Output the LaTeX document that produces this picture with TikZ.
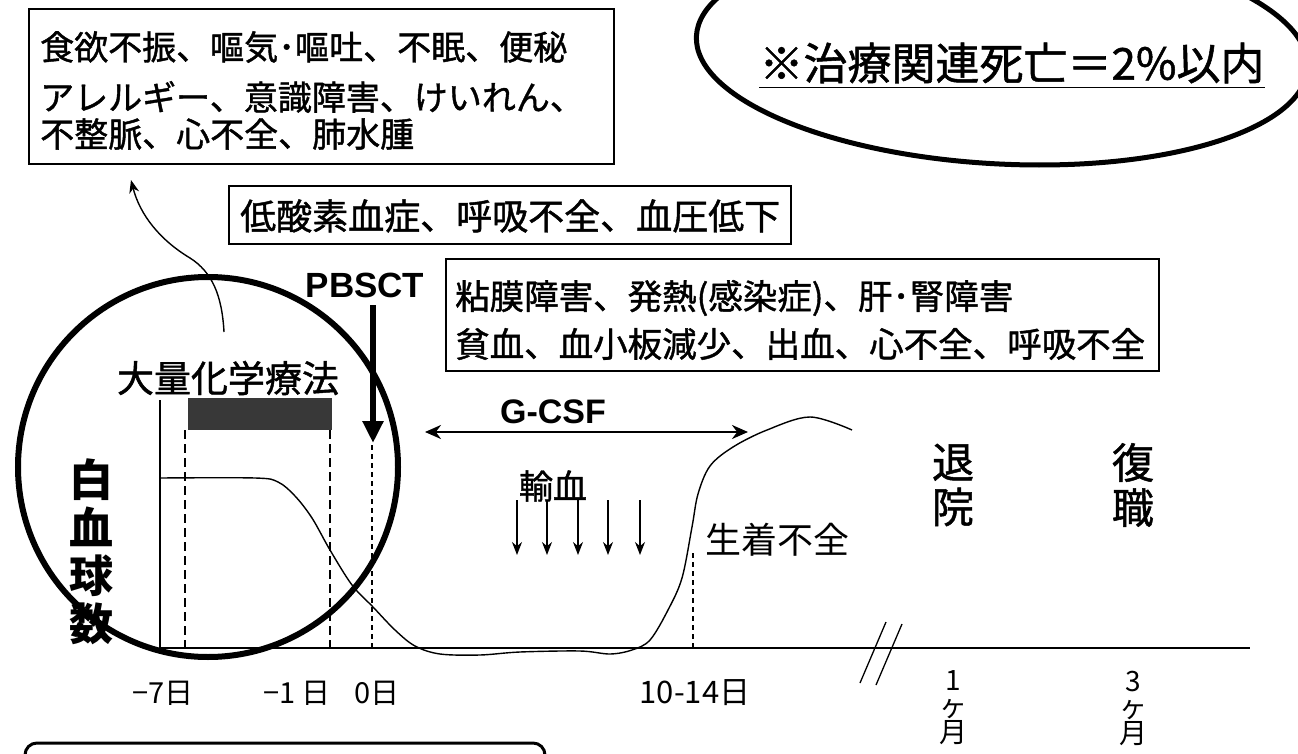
\documentclass[tikz,border=0pt]{standalone}
\usepackage{fontspec}
\newfontfamily\jp{Noto Sans CJK JP}
\newfontfamily\jpm[FakeBold=1.2]{Noto Sans CJK JP}
\newfontfamily\arl{Liberation Sans}
\usetikzlibrary{arrows.meta}
\tikzset{
  frame/.style={draw, line width=1.6pt, inner sep=0pt},
  jtxt/.style={font=\jpm\fontsize{34}{40}\selectfont, inner sep=0pt, anchor=west},
  btxt/.style={font=\jpm\fontsize{37}{40}\selectfont, inner sep=0pt},
  ticklbl/.style={font=\jp\fontsize{29}{30}\selectfont, inner sep=0pt},
  vlbl/.style={font=\jpm\fontsize{42}{45}\selectfont, inner sep=0pt, align=center},
  vmon/.style={font=\jp\fontsize{28}{26}\selectfont, inner sep=0pt, align=center},
  sanslbl/.style={font=\arl\bfseries\fontsize{34}{36}\selectfont, inner sep=0pt},
  dash1/.style={line width=1.3pt, dash pattern=on 9pt off 5pt},
  dash2/.style={line width=1.3pt, dash pattern=on 5pt off 4pt},
  thinarrow/.style={line width=1.4pt, -{Stealth[length=13pt, width=10pt]}},
}
\begin{document}
\begin{tikzpicture}[x=1pt, y=-1pt]
\useasboundingbox (0,0) rectangle (1298,754);
\fill[white] (0,0) rectangle (1298,754);
\clip (0,0) rectangle (1298,754);

% top-left box
\node[frame, minimum width=585pt, minimum height=155pt, anchor=north west] (b1) at (28,8) {};
\node[jtxt] (b1l1) at (40,47) {食欲不振、嘔気･嘔吐、不眠、便秘};
\node[jtxt] (b1l2) at (40,97) {アレルギー、意識障害、けいれん、};
\node[jtxt] (b1l3) at (40,134) {不整脈、心不全、肺水腫};

% ellipse with death rate
\draw[line width=5pt] (1002,52) ellipse [x radius=306, y radius=112, rotate=-3];
\node[font=\jpm\fontsize{44}{46}\selectfont, inner sep=0pt] (death) at (1012,63) {※治療関連死亡＝2\%以内};
\draw[line width=1.5pt] ([yshift=-4pt]death.south west) -- ([yshift=-4pt]death.south east);

% box 2
\node[frame, minimum width=562pt, minimum height=58pt, anchor=north west] (b2) at (228,185) {};
\node[jtxt, font=\jpm\fontsize{36}{40}\selectfont] (b2l1) at (240,216) {低酸素血症、呼吸不全、血圧低下};

% box 3
\node[frame, minimum width=713pt, minimum height=112pt, anchor=north west] (b3) at (445,258) {};
\node[jtxt, font=\jpm\fontsize{34.5}{40}\selectfont] (b3l1) at (455,298) {粘膜障害、発熱(感染症)、肝･腎障害};
\node[jtxt, font=\jpm\fontsize{34.5}{40}\selectfont] (b3l2) at (455,344) {貧血、血小板減少、出血、心不全、呼吸不全};

% big circle
\draw[line width=6pt] (208,467) circle [radius=190];

% curved arrow from circle to top-left box
\coordinate (cstart) at (224,332);
\coordinate (ctip) at (131,180);
\draw[thinarrow] (cstart) .. controls (222,295) and (212,272) .. (190,258) .. controls (160,240) and (140,215) .. (ctip);

% chemo label and bar
\node[btxt] (chemo) at (228,378) {大量化学療法};
\node[fill=black!78, inner sep=0pt, minimum width=144pt, minimum height=32pt, anchor=north west] (bar) at (188,398) {};

% PBSCT
\node[sanslbl, font=\arl\bfseries\fontsize{35}{36}\selectfont] (pbsct) at (365,285) {PBSCT};
\coordinate (pbtop) at (373,305);
\coordinate (pbtip) at (373,443);
\draw[line width=6.5pt, -{Triangle[length=22pt, width=20pt]}] (pbtop) -- (pbtip);

% axes
\coordinate (ytop) at (160,400);
\coordinate (origin) at (160,648);
\coordinate (xend) at (1250,648);
\draw[line width=1.6pt] (ytop) -- (origin) -- (xend);

% dashed day lines
\draw[dash1] (185,430) -- (185,648);
\draw[dash1] (330,430) -- (330,648);
\draw[dash2] (372,445) -- (372,648);
\draw[dash2] (693,553) -- (693,648);

% WBC curve
\draw[line width=1.4pt] plot[smooth, tension=0.55] coordinates {
 (160,478) (255,478) (278,482) (295,496) (312,518) (330,550) (352,585) (373,607) (395,630) (415,646) (440,654) (480,655) (520,652) (580,651) (610,654) (632,650) (650,640) (668,610) (682,578) (692,527) (698,494) (710,466) (733,447) (767,430) (810,417) (852,430)};

% G-CSF
\node[sanslbl] (gcsf) at (553,412) {G-CSF};
\coordinate (gl) at (425,432);
\coordinate (gr) at (748,432);
\draw[line width=2.6pt, {Stealth[length=16pt, width=14pt]}-{Stealth[length=16pt, width=14pt]}] (gl) -- (gr);

% transfusion
\node[font=\jpm\fontsize{34}{36}\selectfont, inner sep=0pt] (yuketsu) at (553,486) {輸血};
\foreach \i/\x in {1/517, 2/547, 3/578, 4/608, 5/640} {
  \coordinate (ta\i) at (\x,500);
  \coordinate (tb\i) at (\x,555);
  \draw[thinarrow] (ta\i) -- (tb\i);
}

% graft failure
\node[font=\jp\fontsize{36}{38}\selectfont, inner sep=0pt, anchor=west] (graft) at (705,540) {生着不全};

% discharge / return to work
\node[vlbl] (taiin) at (953,485) {退\\院};
\node[vlbl] (fukushoku) at (1133,485) {復\\職};

% vertical axis label
\node[font=\jp\bfseries\fontsize{44}{48}\selectfont, inner sep=0pt, align=center] (wbc) at (91,552) {白\\血\\球\\数};

% break marks
\draw[line width=1.3pt] (860,683) -- (886,622);
\draw[line width=1.3pt] (876,685) -- (902,624);

% tick labels
\node[ticklbl] (t7) at (163,693) {−7日};
\node[ticklbl] (t1) at (297,693) {−1 日};
\node[ticklbl] (t0) at (377,693) {0日};
\node[ticklbl, font=\jp\fontsize{31}{32}\selectfont] (t10) at (695,693) {10-14日};
\node[vmon] (m1) at (953,708) {1\\ヶ\\月};
\node[vmon] (m3) at (1133,708) {3\\ヶ\\月};

% bottom partial rounded frame
\draw[line width=3pt, rounded corners=12pt] (25,760) -- (25,743) -- (545,743) -- (545,760);
\end{tikzpicture}
\end{document}
